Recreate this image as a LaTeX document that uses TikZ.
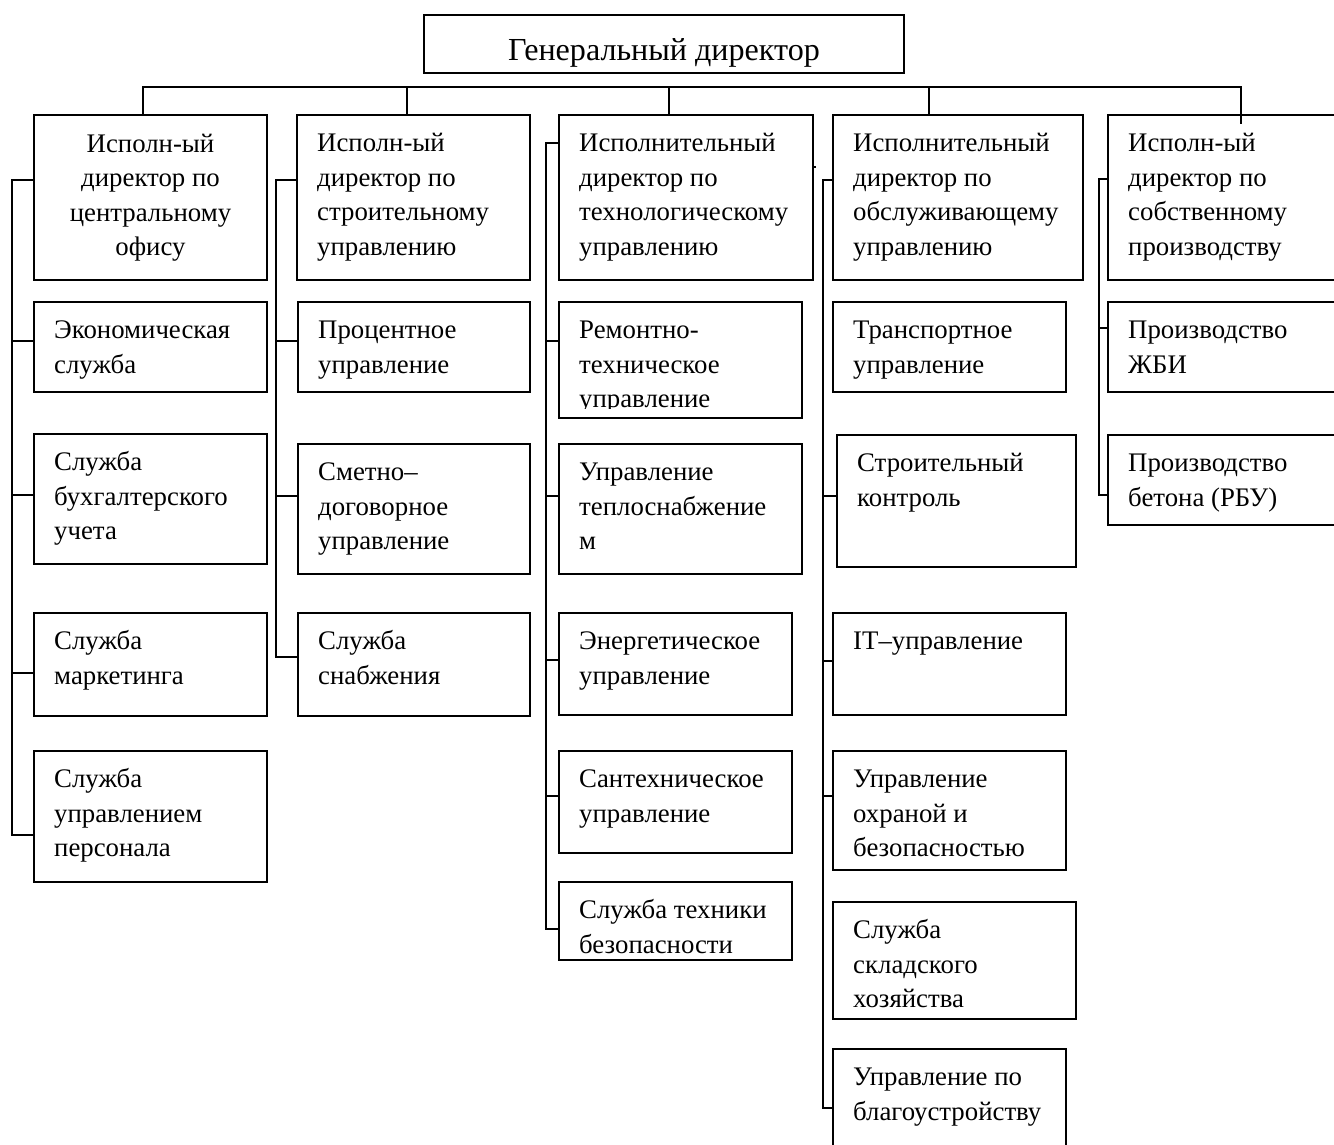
\documentclass[tikz,border=0pt]{standalone}
\usepackage{fontspec}
\setmainfont{Liberation Serif}
\newcommand\orgbox[6]{%
  \node[box, minimum width=#4-#2, minimum height=#5-#3] (#1) at (#2,#3) {};
  \node[txt] (#1t) at ([xshift=20pt,yshift=-36.5pt]#1.north west) {\parbox[t]{300pt}{\raggedright #6}};
}
\newcommand\orgtick[3]{%
  \coordinate (#1) at #2;
  \draw[ln] (#1) -- (#1 -| #3.west);
}
\begin{document}
\begin{tikzpicture}[x=1pt,y=-1pt,
  box/.style={draw, line width=1.8pt, inner sep=0pt, outer sep=0pt, anchor=north west},
  txt/.style={inner sep=0pt, anchor=base west, font=\fontsize{26.8}{34.6}\selectfont},
  ln/.style={line width=1.8pt, line cap=rect}]
\useasboundingbox (0,0) rectangle (1334,1144);

% top
\node[box, minimum width=480, minimum height=58] (gd) at (424,15) {};
\node[inner sep=0pt, anchor=base, font=\fontsize{32.1}{38}\selectfont] (gdt) at ([yshift=-45pt]gd.north) {Генеральный директор};

% heads
\orgbox{h1}{34}{115}{267}{280}{}
\node[txt, anchor=base] (h1c) at ([yshift=-37pt]h1.north) {\parbox[t]{233pt}{\centering Исполн-ый\\директор по\\центральному\\офису}};
\orgbox{h2}{297}{115}{530}{280}{Исполн-ый\\директор по\\строительному\\управлению}
\orgbox{h3}{559}{115}{813}{280}{Исполнительный\\директор по\\технологическому\\управлению}
\orgbox{h4}{833}{115}{1083}{280}{Исполнительный\\директор по\\обслуживающему\\управлению}
\orgbox{h5}{1108}{115}{1340}{280}{Исполн-ый\\директор по\\собственному\\производству}

% top bus
\coordinate (d1) at (143,87);
\coordinate (d2) at (407,87);
\coordinate (d3) at (669,87);
\coordinate (d4) at (929,87);
\coordinate (d5) at (1241,87);
\coordinate (d5e) at (1241,123);
\draw[ln] (d1) -- (d5);
\draw[ln] (d1) -- (d1 |- h1.north);
\draw[ln] (d2) -- (d2 |- h2.north);
\draw[ln] (d3) -- (d3 |- h3.north);
\draw[ln] (d4) -- (d4 |- h4.north);
\draw[ln] (d5) -- (d5e);

% column 1
\orgbox{e11}{34}{302}{267}{392}{Экономическая\\служба}
\orgbox{e12}{34}{434}{267}{564}{Служба\\бухгалтерского\\учета}
\orgbox{e13}{34}{613}{267}{716}{Служба\\маркетинга}
\orgbox{e14}{34}{751}{267}{882}{Служба\\управлением\\персонала}
\orgtick{t10}{(12,180)}{h1}
\orgtick{t11}{(12,341)}{e11}
\orgtick{t12}{(12,495)}{e12}
\orgtick{t13}{(12,673)}{e13}
\orgtick{t14}{(12,835)}{e14}
\draw[ln] (t10) -- (t14);

% column 2
\orgbox{e21}{298}{302}{530}{392}{Процентное\\управление}
\orgbox{e22}{298}{444}{530}{574}{Сметно–\\договорное\\управление}
\orgbox{e23}{298}{613}{530}{716}{Служба\\снабжения}
\orgtick{t20}{(276,180)}{h2}
\orgtick{t21}{(276,341)}{e21}
\orgtick{t22}{(276,496)}{e22}
\orgtick{t23}{(276,657)}{e23}
\draw[ln] (t20) -- (t23);

% column 3
\node[box, minimum width=243, minimum height=116] (e31) at (559,302) {};
\begin{scope}
\clip (559,302) rectangle (802,408);
\node[txt] (e31t) at ([xshift=20pt,yshift=-36.5pt]e31.north west) {\parbox[t]{300pt}{\raggedright Ремонтно-\\техническое\\управление}};
\end{scope}
\orgbox{e32}{559}{444}{802}{574}{Управление\\теплоснабжение\\м}
\orgbox{e33}{559}{613}{792}{715}{Энергетическое\\управление}
\orgbox{e34}{559}{751}{792}{853}{Сантехническое\\управление}
\orgbox{e35}{559}{882}{792}{960}{Служба техники\\безопасности}
\orgtick{t30}{(546,143)}{h3}
\orgtick{t31}{(546,341)}{e31}
\orgtick{t32}{(546,496)}{e32}
\orgtick{t33}{(546,660)}{e33}
\orgtick{t34}{(546,796)}{e34}
\orgtick{t35}{(546,929)}{e35}
\draw[ln] (t30) -- (t35);
\coordinate (s3) at (816,167);
\draw[line width=1.2pt] (s3 -| h3.east) -- (s3);

% column 4
\orgbox{e41}{833}{302}{1066}{392}{Транспортное\\управление}
\orgbox{e42}{837}{435}{1076}{567}{Строительный\\контроль}
\orgbox{e43}{833}{613}{1066}{715}{IT–управление}
\orgbox{e44}{833}{751}{1066}{870}{Управление\\охраной и\\безопасностью}
\orgbox{e45}{833}{902}{1076}{1019}{Служба\\складского\\хозяйства}
\orgbox{e46}{833}{1049}{1066}{1160}{Управление по\\благоустройству}
\orgtick{t40}{(823,180)}{h4}
\orgtick{t42}{(823,496)}{e42}
\orgtick{t43}{(823,661)}{e43}
\orgtick{t44}{(823,796)}{e44}
\orgtick{t46}{(823,1108)}{e46}
\draw[ln] (t40) -- (t46);

% column 5
\orgbox{e51}{1108}{302}{1340}{392}{Производство\\ЖБИ}
\orgbox{e52}{1108}{435}{1340}{525}{Производство\\бетона (РБУ)}
\orgtick{t50}{(1099,179)}{h5}
\orgtick{t51}{(1099,328)}{e51}
\orgtick{t52}{(1099,495)}{e52}
\draw[ln] (t50) -- (t52);
\end{tikzpicture}
\end{document}
